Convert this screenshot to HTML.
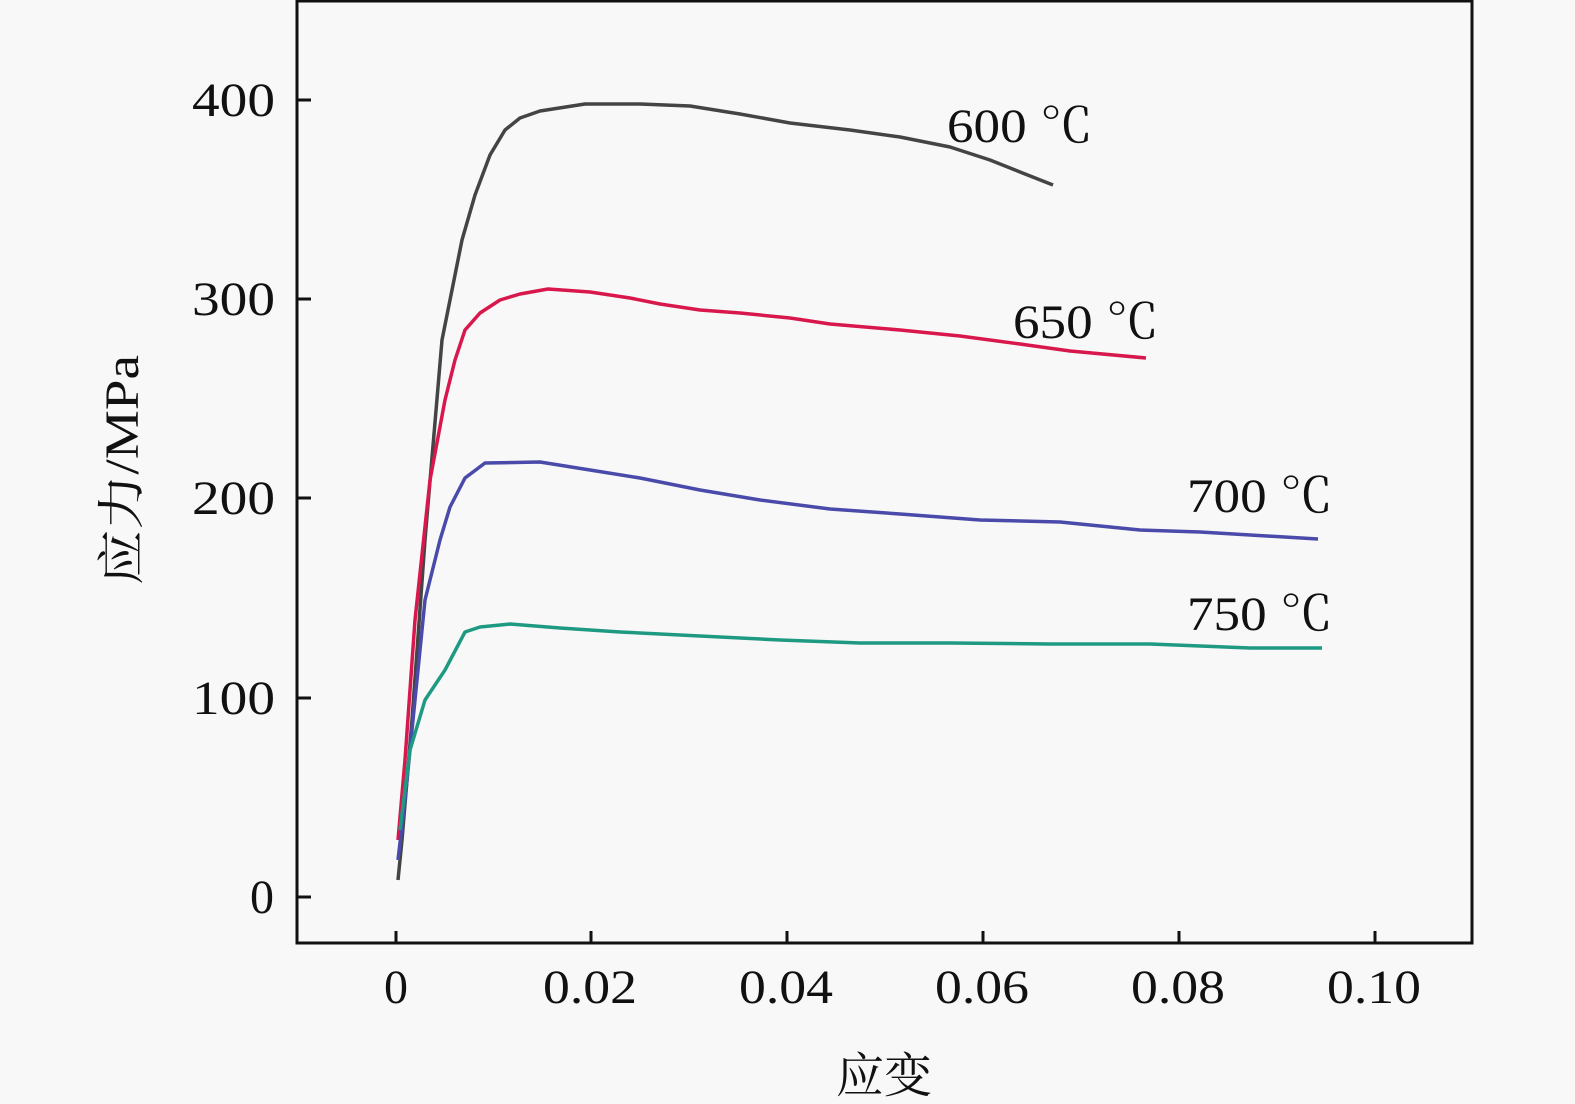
<!DOCTYPE html>
<html><head><meta charset="utf-8"><style>
html,body{margin:0;padding:0;background:#f8f8f8;}
svg{display:block;}
text{font-family:"Liberation Serif","Noto Serif CJK SC",serif;fill:#111;}
</style></head><body>
<svg width="1575" height="1104" viewBox="0 0 1575 1104">
<rect width="1575" height="1104" fill="#f8f8f8"/>
<rect x="297" y="1" width="1175" height="942" fill="none" stroke="#111" stroke-width="3"/>
<g stroke="#111" stroke-width="3">
<line x1="297" y1="897" x2="311" y2="897"/><line x1="297" y1="698" x2="311" y2="698"/>
<line x1="297" y1="498" x2="311" y2="498"/><line x1="297" y1="299" x2="311" y2="299"/>
<line x1="297" y1="100" x2="311" y2="100"/>
<line x1="396" y1="943" x2="396" y2="931"/><line x1="591" y1="943" x2="591" y2="931"/>
<line x1="787" y1="943" x2="787" y2="931"/><line x1="983" y1="943" x2="983" y2="931"/>
<line x1="1179" y1="943" x2="1179" y2="931"/><line x1="1375" y1="943" x2="1375" y2="931"/>
</g>
<g font-size="48">
<text x="250" y="913" textLength="24" lengthAdjust="spacingAndGlyphs">0</text>
<text x="192" y="714" textLength="83" lengthAdjust="spacingAndGlyphs">100</text>
<text x="192" y="514" textLength="83" lengthAdjust="spacingAndGlyphs">200</text>
<text x="192" y="315" textLength="83" lengthAdjust="spacingAndGlyphs">300</text>
<text x="192" y="116" textLength="83" lengthAdjust="spacingAndGlyphs">400</text>
</g>
<g font-size="48">
<text x="384" y="1003" textLength="24" lengthAdjust="spacingAndGlyphs">0</text>
<text x="543" y="1003" textLength="94" lengthAdjust="spacingAndGlyphs">0.02</text>
<text x="739" y="1003" textLength="94" lengthAdjust="spacingAndGlyphs">0.04</text>
<text x="935" y="1003" textLength="94" lengthAdjust="spacingAndGlyphs">0.06</text>
<text x="1131" y="1003" textLength="94" lengthAdjust="spacingAndGlyphs">0.08</text>
<text x="1327" y="1003" textLength="94" lengthAdjust="spacingAndGlyphs">0.10</text>
</g>
<text x="884" y="1092" font-size="48" text-anchor="middle">应变</text>
<text transform="translate(138,470) rotate(-90)" font-size="48" text-anchor="middle" textLength="230" lengthAdjust="spacingAndGlyphs">应力/MPa</text>
<g fill="none" stroke-width="3.5" stroke-linejoin="round">
<polyline stroke="#444" points="398,880 402,840 412,720 425,540 442,340 462,240 475,195 490,155 505,130 520,118 540,111 585,104 640,104 690,106 740,114 790,123 850,130 900,137 950,147 990,160 1020,172 1053,185"/>
<polyline stroke="#d8184c" points="398,840 405,760 415,620 430,480 445,400 455,360 465,330 480,313 500,300 520,294 548,289 590,292 630,298 660,304 700,310 740,313 790,318 830,324 900,330 960,336 1020,344 1070,351 1146,358"/>
<polyline stroke="#4a4aaa" points="398,860 405,800 415,700 425,600 440,540 450,507 465,478 485,463 540,462 590,470 640,478 700,490 760,500 830,509 900,514 980,520 1060,522 1140,530 1200,532 1318,539"/>
<polyline stroke="#1f9a82" points="400,830 410,750 425,700 445,670 465,632 480,627 510,624 560,628 620,632 700,636 780,640 860,643 950,643 1050,644 1150,644 1250,648 1322,648"/>
</g>
<g font-size="48">
<text x="947" y="142" textLength="146" lengthAdjust="spacingAndGlyphs">600 ℃</text>
<text x="1013" y="338" textLength="146" lengthAdjust="spacingAndGlyphs">650 ℃</text>
<text x="1187" y="512" textLength="146" lengthAdjust="spacingAndGlyphs">700 ℃</text>
<text x="1187" y="630" textLength="146" lengthAdjust="spacingAndGlyphs">750 ℃</text>
</g>
</svg>
</body></html>
